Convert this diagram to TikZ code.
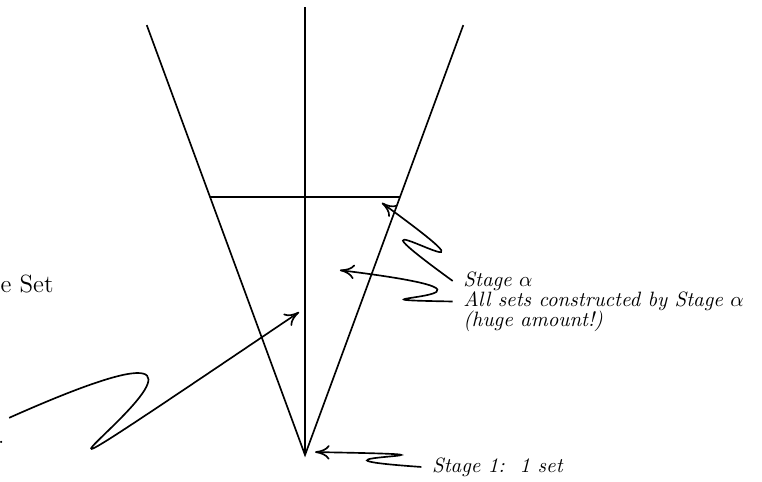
\documentclass[tikz,border=0pt]{standalone}
\usepackage{amsmath}
\usepackage{tikz}
\usetikzlibrary{arrows.meta, calc}

\begin{document}
\begin{tikzpicture}[
        stagelabel/.style={font=\itshape, inner xsep=5pt, inner ysep=0pt, anchor=base west},
        plainlabel/.style={inner sep=0pt, anchor=base west},
        coneline/.style={thick, draw=black},
        squiggle/.style={-{To[length=7pt, width=7pt]}, thick, draw=black}
    ]
        \useasboundingbox (-5.165, -0.44) rectangle (7.738, 7.705);

        % Cone
        \coordinate (apex) at (0, 0);
        \coordinate (spine) at (0, 7.59);
        \coordinate (ltop) at (-2.68, 7.28);
        \coordinate (rtop) at (2.68, 7.28);
        \coordinate (lcut) at ($(apex)!0.6!(ltop)$);
        \coordinate (rcut) at ($(apex)!0.6!(rtop)$);

        \draw[coneline] (ltop) -- (apex) -- (rtop);
        \draw[coneline] (apex) -- (spine);
        \draw[coneline] (lcut) -- (rcut);

        % Arrow targets
        \coordinate (alphatip) at (1.30, 4.27);
        \coordinate (midtip) at (0.59, 3.13);
        \coordinate (onetip) at (0.17, 0.05);
        \coordinate (lefttip) at (-0.10, 2.42);
        \coordinate (leftstart) at (-5.01, 0.63);

        % Labels
        \node[stagelabel] (stagealpha) at (2.50, 2.86) {Stage $\alpha$};
        \node[stagelabel] (allsets) at (2.50, 2.51) {All sets constructed by Stage $\alpha$};
        \node[stagelabel] (huge) at (2.50, 2.17) {(huge amount!)};
        \node[stagelabel] (stageone) at (1.97, -0.29) {Stage 1:\ \ 1 set};
        \node[plainlabel, font=\large] (eset) at (-5.16, 2.76) {e Set};
        \node[plainlabel] (clipdot) at (-5.20, 0.19) {.};

        % Arrows
        \draw[squiggle] (stagealpha.west) .. controls +(144:3.05) and +(-36:3.39) .. (alphatip);
        \draw[squiggle] (allsets.west) .. controls +(179:2.54) and +(-7:3.89) .. (midtip);
        \draw[squiggle] (stageone.west) .. controls +(176:2.71) and +(-1:3.56) .. (onetip);
        \draw[squiggle] (leftstart) .. controls +(24:7.1) and +(214:10) .. (lefttip);

    \end{tikzpicture}
\end{document}
